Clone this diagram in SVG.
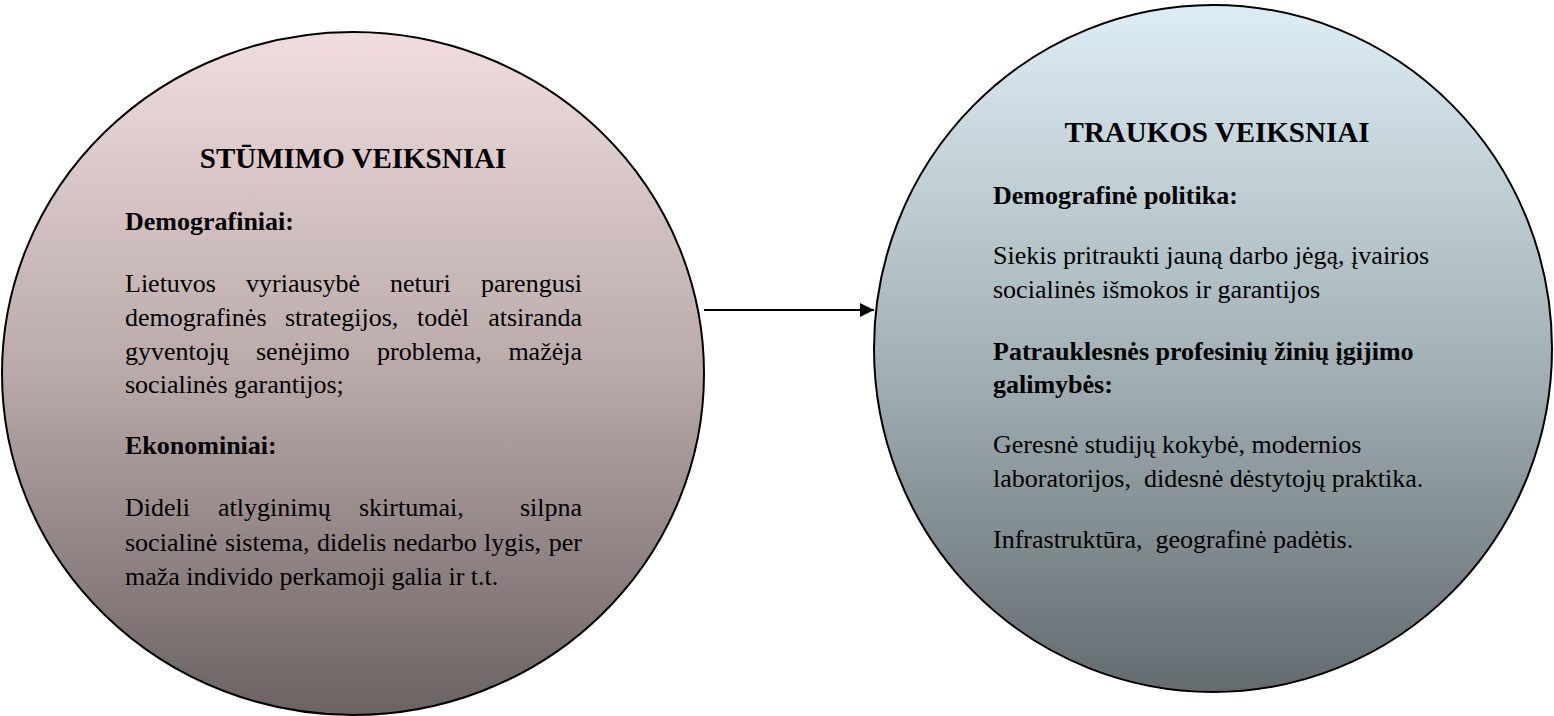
<svg xmlns="http://www.w3.org/2000/svg" width="1554" height="716" viewBox="0 0 1554 716">
<defs>
<linearGradient id="gPush" x1="0" y1="0" x2="0" y2="1">
<stop offset="0" stop-color="#F1DDDD"/>
<stop offset="0.5" stop-color="#B9A9A9"/>
<stop offset="1" stop-color="#6C6262"/>
</linearGradient>
<linearGradient id="gPull" x1="0" y1="0" x2="0" y2="1">
<stop offset="0" stop-color="#DCEDF3"/>
<stop offset="0.5" stop-color="#A6B4B9"/>
<stop offset="1" stop-color="#636B6F"/>
</linearGradient>
<marker id="arrow" viewBox="0 0 10 10" refX="10" refY="5" markerWidth="7.5" markerHeight="7" markerUnits="strokeWidth" orient="auto">
<path d="M0,0 L10,5 L0,10 Z" fill="#000"/>
</marker>
</defs>
<style>
.shape{stroke:#000;stroke-width:2}
text{font-family:"Liberation Serif","Times New Roman",serif;fill:#000}
.title{font-size:29px;font-weight:bold;text-anchor:middle}
.head{font-size:26px;font-weight:bold}
.body{font-size:26px}
.conn{stroke:#000;stroke-width:2;fill:none}
</style>
<g id="connectors">
<line class="conn" x1="704" y1="310" x2="874" y2="310" marker-end="url(#arrow)"/>
</g>
<g id="push">
<ellipse class="shape" cx="353" cy="373.5" rx="351" ry="341.5" fill="url(#gPush)"/>
<text class="title" x="353" y="168">STŪMIMO VEIKSNIAI</text>
<text class="head" x="125" y="230">Demografiniai:</text>
<text class="body" y="292"><tspan x="125">Lietuvos</tspan><tspan x="246">vyriausybė</tspan><tspan x="390">neturi</tspan><tspan x="582" text-anchor="end">parengusi</tspan></text>
<text class="body" y="326"><tspan x="125">demografinės</tspan><tspan x="285">strategijos,</tspan><tspan x="417">todėl</tspan><tspan x="582" text-anchor="end">atsiranda</tspan></text>
<text class="body" y="360"><tspan x="125">gyventojų</tspan><tspan x="256">senėjimo</tspan><tspan x="377">problema,</tspan><tspan x="582" text-anchor="end">mažėja</tspan></text>
<text class="body" x="125" y="393">socialinės garantijos;</text>
<text class="head" x="125" y="454">Ekonominiai:</text>
<text class="body" y="516"><tspan x="125">Dideli</tspan><tspan x="218">atlyginimų</tspan><tspan x="359">skirtumai,</tspan><tspan x="582" text-anchor="end">silpna</tspan></text>
<text class="body" y="551"><tspan x="125">socialinė</tspan><tspan x="225">sistema,</tspan><tspan x="317">didelis</tspan><tspan x="393">nedarbo</tspan><tspan x="484">lygis,</tspan><tspan x="582" text-anchor="end">per</tspan></text>
<text class="body" x="125" y="585">maža individo perkamoji galia ir t.t.</text>
</g>
<g id="pull">
<ellipse class="shape" cx="1213" cy="348.5" rx="339" ry="343.5" fill="url(#gPull)"/>
<text class="title" x="1217" y="142">TRAUKOS VEIKSNIAI</text>
<text class="head" x="993" y="204">Demografinė politika:</text>
<text class="body" x="993" y="264">Siekis pritraukti jauną darbo jėgą, įvairios</text>
<text class="body" x="993" y="298">socialinės išmokos ir garantijos</text>
<text class="head" x="993" y="360">Patrauklesnės profesinių žinių įgijimo</text>
<text class="head" x="993" y="393">galimybės:</text>
<text class="body" x="993" y="453">Geresnė studijų kokybė, modernios</text>
<text class="body" x="993" y="487" xml:space="preserve">laboratorijos,  didesnė dėstytojų praktika.</text>
<text class="body" x="993" y="548" xml:space="preserve">Infrastruktūra,  geografinė padėtis.</text>
</g>
</svg>
